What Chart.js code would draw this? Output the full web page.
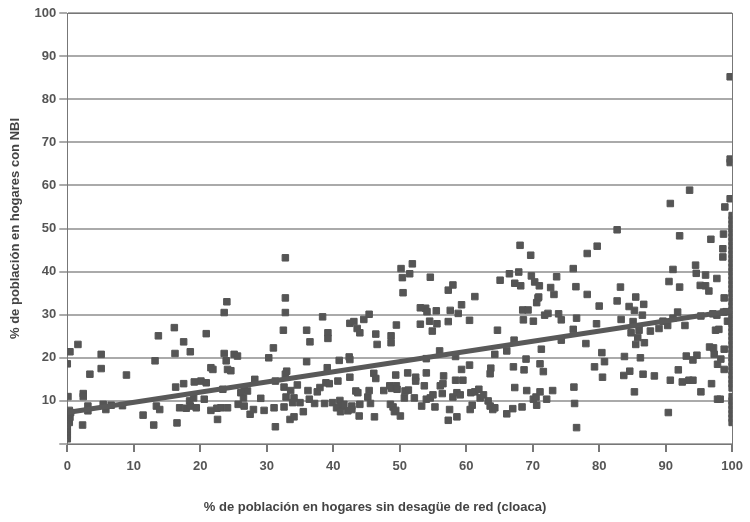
<!DOCTYPE html>
<html>
<head>
<meta charset="utf-8">
<script src="https://cdn.jsdelivr.net/npm/chart.js@4"></script>
<style>
body { margin: 0; background: #fff; }
</style>
</head>
<body>
<canvas id="nbiChart" width="750" height="522"></canvas>
<script>
// [% sin desagüe de red, % con NBI]
const departamentos = [
[0,1.2],[0,2],[0,2.8],[0,3.5],[0,4.2],[0.3,5],[0.2,5.6],[0.4,6.2],[0.2,6.8],[0.5,7.3],[0.3,7.8],[0.1,11],[0,18.6],[0.4,21.4],[1.6,23.1],
[2.4,11.7],[2.4,11],[2.3,4.4],[3.1,7.7],[3.1,8.8],[3.4,16.2],[5.4,9.2],[5.8,8.0],[5.1,20.8],[5.1,17.5],[6.6,9.0],[8.3,8.9],[8.9,16.0],
[11.4,6.7],[13.0,4.4],[13.2,19.3],[13.7,25.1],[13.4,8.8],[13.9,8.0],[16.1,27.0],[16.2,21.0],[17.5,23.7],[18.5,21.4],[16.3,13.2],[17.5,14.0],
[19.1,14.4],[20.1,14.6],[20.9,14.2],[20.9,25.6],[16.5,4.9],[16.9,8.4],[17.9,8.3],[18.5,8.8],[18.4,10.0],[19.0,10.7],[19.4,8.4],[20.6,10.4],
[21.6,7.8],[22.5,8.3],[22.6,5.7],[21.6,17.7],[21.9,17.3],[23.6,21.0],[23.9,19.3],[23.6,30.5],[24.0,33.0],[23.4,12.7],[23.1,8.4],[24.1,17.3],
[25.1,20.8],[25.6,20.4],[24.6,17.0],
[32.8,33.9],[32.8,30.5],[32.8,43.2],[32.5,26.4],[31.0,22.3],[30.3,20.0],[33.0,16.9],[32.8,16.2],[28.2,15.0],[31.3,14.6],[26.6,12.7],[26.1,11.9],
[27.1,12.3],[26.5,10.7],[29.1,10.6],[32.6,13.2],[33.6,12.4],[34.6,13.7],[32.9,10.9],[34.1,10.7],[33.9,9.6],[35.0,9.6],[25.7,9.2],[26.6,8.8],
[27.5,6.9],[28.0,8.0],[24.1,8.4],[29.6,7.8],[31.1,8.4],[31.3,4.0],[32.6,8.6],[33.5,5.7],[34.1,6.3],
[38.4,29.5],[42.5,28.0],[43.1,28.4],[44.6,28.9],[45.4,30.1],[49.5,27.6],[43.6,26.8],[44.0,25.8],[36.0,26.4],[36.5,23.7],[39.2,25.8],[39.2,24.5],
[46.4,25.5],[46.6,23.1],[48.7,25.1],[48.7,23.5],[36.0,19.1],[40.9,19.4],[42.4,20.2],[42.5,19.6],[39.1,17.7],[42.5,15.5],[46.1,16.4],[46.4,15.2],
[49.4,16.0],[35.5,7.5],[36.2,12.4],[37.6,12.1],[38.0,13.1],[38.9,14.2],[39.4,14.0],[40.7,14.6],[36.4,10.4],[37.2,9.4],[38.7,9.4],[39.9,9.6],
[41.0,10.1],[41.2,8.8],[40.5,8.4],[41.1,7.5],[41.6,9.2],[42.2,7.7],[42.8,8.8],[42.8,8.0],[43.4,12.3],[43.7,11.9],[44.0,9.2],[43.9,6.5],
[45.4,12.4],[45.2,10.9],[45.6,9.4],[46.2,6.3],[47.6,12.4],[48.5,13.5],[48.8,12.9],[48.6,9.2],[49.0,8.6],[49.2,7.5],[49.5,13.5],[49.6,12.7],[49.4,7.8],
[50.2,40.7],[50.4,38.6],[51.5,39.5],[51.9,41.8],[50.5,35.1],[54.6,38.7],[57.3,35.7],[58.0,36.9],[61.3,34.2],[68.1,46.1],[69.7,43.8],[65.1,38.0],
[66.5,39.5],[67.9,39.9],[67.3,37.3],[68.2,36.7],[69.8,39.0],[70.3,37.6],[71.0,36.7],[70.8,33.9],[72.7,36.3],[73.2,34.7],[73.6,38.8],
[53.1,31.6],[53.9,31.5],[54.1,30.7],[55.5,30.9],[57.6,31.0],[58.8,30.3],[59.3,32.3],[57.3,28.4],[60.5,28.7],[53.1,27.8],[54.5,28.5],[55.6,27.9],
[54.9,26.2],[64.7,26.4],[67.2,24.1],[56.0,21.6],[54.0,19.8],[58.4,20.3],[64.3,20.8],[66.1,21.6],[71.3,22.0],[69.0,19.7],[74.3,24.1],[68.6,28.8],
[70.1,28.5],[68.5,31.1],[69.3,31.1],[70.6,32.8],[70.9,34.1],[71.8,29.9],[72.3,30.3],[73.9,30.2],[74.3,28.8],[51.2,16.5],[52.4,15.5],[52.4,14.6],
[54.0,16.5],[56.6,15.8],[56.5,14.0],[56.1,13.5],[58.4,14.8],[59.5,14.8],[59.3,17.3],[60.5,18.3],[63.7,17.6],[63.6,16.3],[67.1,17.9],[68.7,17.2],
[71.1,18.6],[71.6,16.8],[50.8,12.3],[51.3,12.5],[50.7,10.7],[52.2,10.7],[53.7,13.5],[54.0,10.4],[54.6,10.7],[55.0,11.4],[53.3,8.8],[55.3,8.6],
[56.4,11.7],[58.0,10.9],[58.6,11.9],[59.1,11.4],[57.5,8.0],[57.3,5.5],[58.6,6.3],[60.6,8.0],[60.9,9.0],[60.7,11.9],[61.3,12.1],[61.9,12.7],
[62.1,10.7],[62.6,11.4],[63.3,10.0],[63.6,8.8],[64.0,8.0],[64.3,8.4],[66.1,7.0],[67.0,8.2],[68.4,8.6],[67.3,13.1],[69.1,12.4],[70.1,10.4],
[70.5,10.9],[70.6,9.0],[71.1,12.1],[72.1,10.4],[73.0,12.4],[50.1,6.5],
[99.7,85.2],[99.7,66.1],[99.7,65.3],[99.7,56.9],[98.9,55.0],[93.6,58.9],[90.7,55.8],[82.7,49.7],[92.1,48.3],[96.8,47.5],[98.7,48.7],[98.6,45.3],
[98.6,43.4],[79.7,45.9],[78.2,44.2],[76.1,40.7],[91.1,40.5],[94.5,41.5],[94.6,39.6],[96.0,39.2],[97.7,38.4],[76.5,36.5],[78.2,34.7],[83.2,36.4],
[85.5,34.1],[82.7,33.2],[90.5,37.7],[92.1,36.4],[95.2,36.8],[96.0,36.7],[96.5,35.5],[98.8,33.9],
[80.0,32.0],[84.5,31.9],[85.3,31.0],[86.7,32.4],[86.5,29.9],[76.6,29.2],[76.1,26.6],[79.6,27.9],[83.3,28.9],[85.1,28.4],[84.8,25.8],[86.0,26.4],
[85.8,24.7],[85.5,23.1],[86.8,23.5],[87.7,26.2],[89.0,26.8],[89.6,28.5],[90.3,27.5],[91.1,29.2],[91.8,30.6],[92.9,27.5],[95.3,29.7],[97.1,30.2],
[97.7,29.9],[97.5,26.4],[98.0,26.6],[78.0,23.3],[80.4,21.2],[80.8,19.1],[79.3,17.9],[80.5,15.5],[83.8,20.3],[86.2,20.0],[83.7,15.9],[84.6,16.9],
[86.6,16.2],[88.3,15.8],[91.9,17.2],[90.7,14.8],[92.5,14.4],[93.5,14.8],[94.1,14.8],[93.1,20.4],[94.1,19.5],[94.7,20.6],[96.6,22.5],[97.2,22.3],
[97.3,20.8],[97.8,18.5],[98.3,19.7],[98.8,17.3],[96.9,14.0],[95.3,12.1],[85.3,12.1],[76.2,13.2],[76.3,9.4],[76.6,3.8],[90.4,7.3],[97.8,10.4],
[98.2,10.4],[98.8,22.0],[99.3,28.5],[99.1,30.7],[98.7,30.6],
[100,5],[100,6],[100,7],[100,8],[100,9],[100,10],[100,11],[100,13],[100,14],[100,15],[100,16],[100,17],[100,18],[100,19],[100,20],
[100,21],[100,22],[100,23],[100,24],[100,25],[100,26],[100,27],[100,28],[100,29],[100,30],[100,31],[100,32],[100,33],[100,34],[100,35],
[100,36],[100,37],[100,38],[100,39],[100,40],[100,41],[100,42],[100,43],[100,44],[100,45],[100,46],[100,47],[100,48],[100,49],[100,50],
[100,51],[100,52],[100,53]
];

// recta de tendencia (extremos)
const tendencia = [[0, 7.3], [100, 30.9]];

const tituloX = '% de población en hogares sin desagüe de red (cloaca)';
const tituloY = '% de población en hogares con NBI';

const gris = '#555555';
const borde = '#777777';
const nada = 'rgba(0,0,0,0)';
const fuente = { size: 13, weight: 'bold' };

// color de etiquetas del eje Y: 0..100 de a 10 (el 0 no se muestra)
const colorEtiquetaY = [nada, gris, gris, gris, gris, gris, gris, gris, gris, gris, gris];

// bordes de los ejes en gris oscuro
Chart.defaults.borderColor = borde;

const chart = new Chart(document.getElementById('nbiChart'), {
  type: 'scatter',
  data: {
    datasets: [
      {
        type: 'line',
        data: tendencia.map(p => ({ x: p[0], y: p[1] })),
        borderColor: '#595959',
        borderWidth: 5,
        pointRadius: 0
      },
      {
        data: departamentos.map(p => ({ x: p[0], y: p[1] })),
        pointStyle: 'rect',
        pointRadius: 4.6,
        borderWidth: 1,
        borderColor: gris,
        backgroundColor: gris
      }
    ]
  },
  options: {
    responsive: false,
    animation: false,
    layout: { padding: { left: 8, right: 8, top: 5, bottom: 0 } },
    plugins: {
      legend: { display: false },
      title: {
        display: true,
        position: 'bottom',
        text: tituloX,
        color: '#444444',
        font: fuente,
        padding: { top: 17.8, bottom: 7 }
      }
    },
    scales: {
      x: {
        min: 0, max: 100,
        ticks: { stepSize: 10, color: gris, font: fuente, padding: 7, maxRotation: 0 },
        grid: { drawOnChartArea: false, color: borde, lineWidth: 2 }
      },
      y: {
        min: 0, max: 100,
        ticks: { stepSize: 10, color: colorEtiquetaY, font: fuente, padding: 3 },
        grid: { color: '#aaaaaa', lineWidth: 2 },
        title: {
          display: true,
          text: tituloY,
          color: '#444444',
          font: fuente,
          padding: { top: 0, bottom: 8 }
        }
      },
      x2: {
        position: 'top',
        min: 0, max: 100,
        ticks: { display: false },
        grid: { display: false }
      },
      y2: {
        position: 'right',
        min: 0, max: 100,
        ticks: { display: false },
        grid: { display: false }
      }
    }
  }
});
</script>
</body>
</html>
